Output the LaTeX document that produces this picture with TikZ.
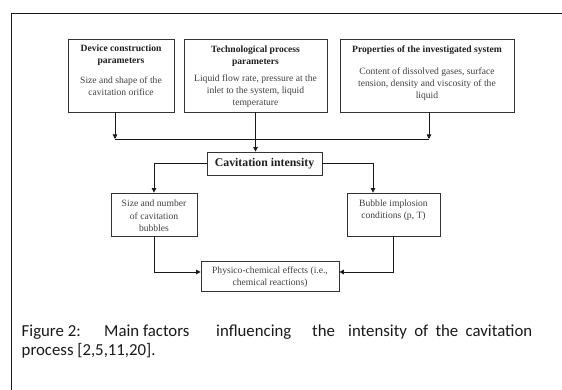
\documentclass[tikz,border=0pt]{standalone}
\usepackage{fontspec}
\setmainfont{Liberation Serif}
\newfontfamily\capfont{Carlito}
\usetikzlibrary{arrows.meta,calc}
\begin{document}
\begin{tikzpicture}[x=1pt,y=-1pt,
  box/.style={draw=black!80, line width=0.8pt, inner sep=0pt},
  txt/.style={text=black!75, align=center, font=\fontsize{9.6}{12.3}\selectfont, inner sep=0pt},
  hdr/.style={text=black!88, align=center, font=\fontsize{9.6}{12.3}\selectfont\bfseries, inner sep=0pt},
  conn/.style={draw=black!90, line width=0.8pt},
  arr/.style={conn, -{Triangle[length=4.5pt,width=4.5pt]}},
  capt/.style={text=black!90, inner sep=0pt, font=\capfont\fontsize{16.8}{19}\selectfont}]
\useasboundingbox (0,0) rectangle (562,390);
% outer frame
\draw[conn] (562,13) -- (11,13) -- (11,390);
% top boxes
\node[box, minimum width=106pt, minimum height=73pt] (b1) at (121,75.5) {};
\node[box, minimum width=143pt, minimum height=73pt] (b2) at (255.5,75.5) {};
\node[box, minimum width=174pt, minimum height=73pt] (b3) at (427,75.5) {};
\node[hdr] (b1h) at (121,55) {Device construction\\parameters};
\node[txt] (b1t) at (121,86) {Size and shape of the\\cavitation orifice};
\node[hdr] (b2h) at (255.5,56) {Technological process\\parameters};
\node[txt] (b2t) at (255.5,91) {Liquid flow rate, pressure at the\\inlet to the system, liquid\\temperature};
\node[hdr] (b3h) at (427,50) {Properties of the investigated system};
\node[txt] (b3t) at (427,84) {Content of dissolved gases, surface\\tension, density and viscosity of the\\liquid};
% centre box
\node[box, minimum width=115pt, minimum height=23pt, text=black!88,
      font=\fontsize{11.8}{13}\selectfont\bfseries] (ci) at (264.5,163.5) {Cavitation intensity};
% lower boxes
\node[box, minimum width=86pt, minimum height=43pt] (sb) at (154,214.5) {};
\node[txt] (sbt) at (154,216) {Size and number\\of cavitation\\bubbles};
\node[box, minimum width=93pt, minimum height=43pt] (bi) at (393.5,214.5) {};
\node[txt] (bit) at (393.5,210) {Bubble implosion\\conditions (p, T)};
\node[box, minimum width=138pt, minimum height=30pt] (pe) at (270,276) {};
\node[txt] (pet) at (270,277) {Physico-chemical effects (i.e.,\\chemical reactions)};
% connectors
\coordinate (j1) at (115,139);
\coordinate (j3) at (429,139);
\coordinate (cr) at (373,0);
\draw[arr] (b1.south -| j1) -- (j1);
\draw[arr] (b3.south -| j3) -- (j3);
\draw[conn] (j1) -- (j3);
\draw[arr] (b2.south) -- (b2.south |- ci.north);
\draw[arr] (ci.west) -| (sb.north);
\draw[arr] (ci.east) -| (bi.north -| cr);
\draw[arr] (sb.south) |- ([yshift=4pt]pe.west);
\draw[arr] (bi.south) |- ([yshift=4pt]pe.east);
% caption
\node[capt, anchor=base west] (cw1) at (21.5,336) {Figure 2:};
\node[capt, anchor=base west] (cw2) at (104,336) {Main factors};
\node[capt, anchor=base west] (cw3) at (216,336) {influencing};
\node[capt, anchor=base west] (cw4) at (312,336) {the};
\node[capt, anchor=base west] (cw5) at (348,336) {\makebox[184pt][s]{intensity of the cavitation}};
\node[capt, anchor=base west] (cap2) at (21.5,355) {process [2,5,11,20].};
\end{tikzpicture}
\end{document}
